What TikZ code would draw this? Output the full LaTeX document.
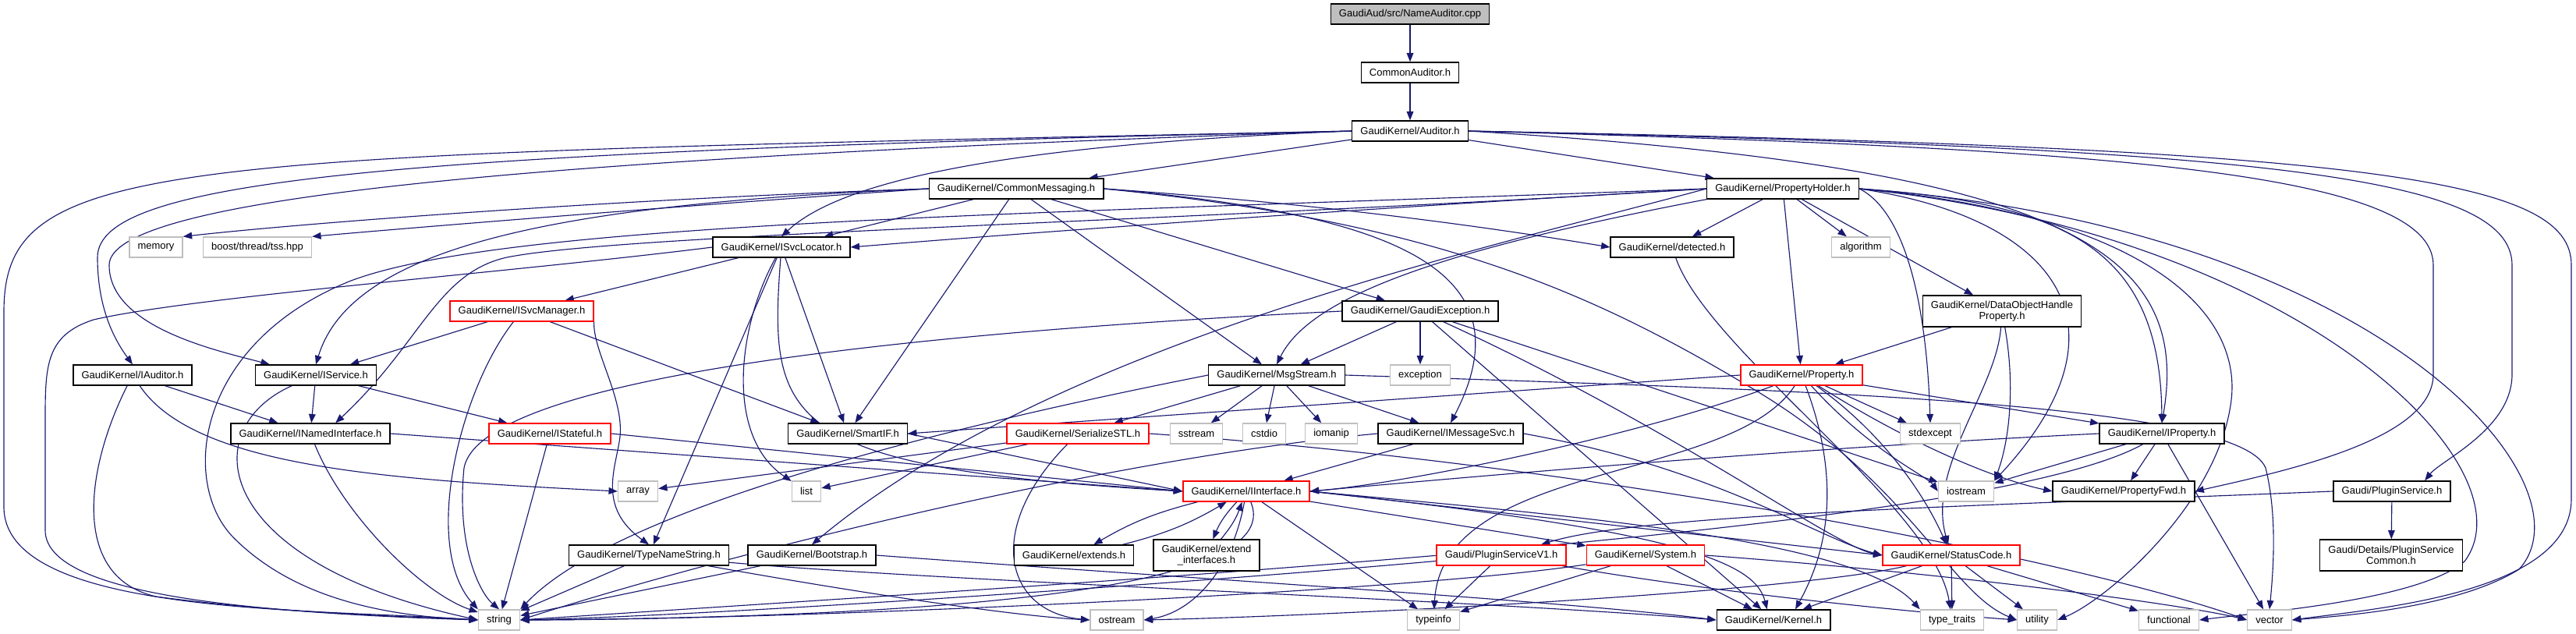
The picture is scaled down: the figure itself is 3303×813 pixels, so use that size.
\documentclass[tikz,border=0pt]{standalone}
\usepackage{fontspec}
\setmainfont{Liberation Sans}
\usetikzlibrary{arrows.meta,backgrounds}
\definecolor{edgeblue}{HTML}{191970}
\definecolor{truncred}{HTML}{FF0000}
\definecolor{sysgray}{HTML}{BFBFBF}
\tikzset{
  box/.style={draw, fill=white, line width=1pt, minimum height=19.5pt, inner xsep=8pt, inner ysep=1pt,
    align=center, font={\fontsize{9.75}{11}\selectfont}},
  hdr/.style={box, draw=black},
  trunc/.style={box, draw=truncred},
  sys/.style={box, draw=sysgray},
  two/.style={minimum height=30pt},
  dep/.style={draw=edgeblue, line width=0.85pt, -{Triangle[length=8.5pt,width=6.5pt]}},
}
\begin{document}
\begin{tikzpicture}[x=0.75pt,y=-0.75pt]
\useasboundingbox (0,0) rectangle (3303,813);
\node[hdr, fill=sysgray] (cpp) at (1808,18) {GaudiAud/src/NameAuditor.cpp};
\node[hdr] (commonaud) at (1808,93) {CommonAuditor.h};
\node[hdr] (auditor) at (1808,168) {GaudiKernel/Auditor.h};
\node[hdr] (commonmsg) at (1303,242) {GaudiKernel/CommonMessaging.h};
\node[hdr] (propholder) at (2286,242) {GaudiKernel/PropertyHolder.h};
\node[sys] (memory) at (200,317) {memory};
\node[sys] (boost) at (330,317) {boost/thread/tss.hpp};
\node[hdr] (isvcloc) at (1002,317) {GaudiKernel/ISvcLocator.h};
\node[hdr] (detected) at (2144,317) {GaudiKernel/detected.h};
\node[sys] (algorithm) at (2386,317) {algorithm};
\node[trunc] (isvcmgr) at (669,399) {GaudiKernel/ISvcManager.h};
\node[hdr] (gaudiexc) at (1821,399) {GaudiKernel/GaudiException.h};
\node[hdr, two] (dohp) at (2567,399) {GaudiKernel/DataObjectHandle\\Property.h};
\node[hdr] (iauditor) at (170,481) {GaudiKernel/IAuditor.h};
\node[hdr] (iservice) at (405,481) {GaudiKernel/IService.h};
\node[hdr] (msgstream) at (1637,481) {GaudiKernel/MsgStream.h};
\node[sys] (exception) at (1821,481) {exception};
\node[trunc] (property) at (2310,481) {GaudiKernel/Property.h};
\node[hdr] (inamed) at (398,556) {GaudiKernel/INamedInterface.h};
\node[trunc] (istateful) at (705,556) {GaudiKernel/IStateful.h};
\node[hdr] (smartif) at (1087,556) {GaudiKernel/SmartIF.h};
\node[trunc] (serialize) at (1382,556) {GaudiKernel/SerializeSTL.h};
\node[sys] (sstream) at (1534,556) {sstream};
\node[sys] (cstdio) at (1621,556) {cstdio};
\node[sys] (iomanip) at (1707,556) {iomanip};
\node[hdr] (imsgsvc) at (1860,556) {GaudiKernel/IMessageSvc.h};
\node[sys] (stdexcept) at (2475,556) {stdexcept};
\node[hdr] (iproperty) at (2772,556) {GaudiKernel/IProperty.h};
\node[sys] (array) at (818,630) {array};
\node[sys] (list) at (1034,630) {list};
\node[trunc] (iinterface) at (1598,630) {GaudiKernel/IInterface.h};
\node[sys] (iostream) at (2521,630) {iostream};
\node[hdr] (propfwd) at (2723,630) {GaudiKernel/PropertyFwd.h};
\node[hdr] (pluginsvc) at (3067,630) {Gaudi/PluginService.h};
\node[hdr] (typename) at (832,712) {GaudiKernel/TypeNameString.h};
\node[hdr] (bootstrap) at (1041,712) {GaudiKernel/Bootstrap.h};
\node[hdr] (extends) at (1377,712) {GaudiKernel/extends.h};
\node[hdr, two] (extendif) at (1547,712) {GaudiKernel/extend\\\_interfaces.h};
\node[trunc] (pluginv1) at (1925,712) {Gaudi/PluginServiceV1.h};
\node[trunc] (system) at (2110,712) {GaudiKernel/System.h};
\node[trunc] (statuscode) at (2502,712) {GaudiKernel/StatusCode.h};
\node[hdr, two] (plugincommon) at (3066,712) {Gaudi/Details/PluginService\\Common.h};
\node[sys] (string) at (640,795) {string};
\node[sys] (ostream) at (1432,795) {ostream};
\node[sys] (typeinfo) at (1838,795) {typeinfo};
\node[hdr] (kernel) at (2274,795) {GaudiKernel/Kernel.h};
\node[sys] (typetraits) at (2503,795) {type\_traits};
\node[sys] (utility) at (2612,795) {utility};
\node[sys] (functional) at (2781,795) {functional};
\node[sys] (vector) at (2910,795) {vector};
\begin{pgfonlayer}{background}
\draw[dep] (cpp) -- (commonaud);
\draw[dep] (commonaud) -- (auditor);
\draw[dep] (auditor.west) .. controls (200,200) and (5,200) .. (5,400) -- (5,650) .. controls (5,790) and (400,780) .. (string.west);
\draw[dep] (auditor.west) .. controls (500,195) and (125,230) .. (125,330) .. controls (125,400) and (150,440) .. (iauditor.north);
\draw[dep] (auditor.west) .. controls (600,205) and (140,260) .. (140,340) .. controls (140,420) and (280,450) .. (iservice.167);
\draw[dep] (auditor.west) .. controls (1300,185) and (1080,230) .. (isvcloc.north);
\draw[dep] (auditor) -- (commonmsg);
\draw[dep] (auditor) -- (propholder);
\draw[dep] (auditor.east) .. controls (2650,215) and (2810,320) .. (iproperty.north);
\draw[dep] (auditor.east) .. controls (2700,190) and (3120,220) .. (3120,340) -- (3120,480) .. controls (3120,560) and (2950,600) .. (propfwd.east);
\draw[dep] (auditor.east) .. controls (2900,190) and (3221,225) .. (3221,340) -- (3221,480) .. controls (3221,550) and (3130,590) .. (pluginsvc.18);
\draw[dep] (auditor.east) .. controls (3050,190) and (3297,230) .. (3297,340) -- (3297,640) .. controls (3297,760) and (3050,780) .. (vector.east);
\draw[dep] (commonmsg.west) .. controls (800,255) and (400,285) .. (memory.north east);
\draw[dep] (commonmsg.west) .. controls (900,262) and (550,290) .. (boost.north east);
\draw[dep] (commonmsg.west) .. controls (700,262) and (450,320) .. (iservice.north);
\draw[dep] (commonmsg) -- (isvcloc);
\draw[dep] (commonmsg) -- (smartif);
\draw[dep] (commonmsg) -- (msgstream);
\draw[dep] (commonmsg) -- (gaudiexc);
\draw[dep] (commonmsg.east) .. controls (1800,275) and (1960,350) .. (imsgsvc.north);
\draw[dep] (commonmsg.east) .. controls (1700,262) and (1900,290) .. (detected.west);
\draw[dep] (commonmsg.east) .. controls (1850,285) and (2050,380) .. (2250,500) .. controls (2450,620) and (2500,760) .. (utility.west);
\draw[dep] (propholder.west) .. controls (1700,270) and (1300,300) .. (isvcloc.east);
\draw[dep] (propholder.west) .. controls (1500,285) and (800,300) .. (650,330) .. controls (560,350) and (540,440) .. (inamed.23);
\draw[dep] (propholder.west) .. controls (1300,275) and (650,285) .. (450,360) .. controls (250,440) and (230,620) .. (300,690) .. controls (380,770) and (500,790) .. (string.west);
\draw[dep] (propholder) -- (detected);
\draw[dep] (propholder) -- (algorithm);
\draw[dep] (propholder) -- (property);
\draw[dep] (propholder) -- (dohp);
\draw[dep] (propholder.east) .. controls (2440,270) and (2470,380) .. (stdexcept.north);
\draw[dep] (propholder.east) .. controls (2650,260) and (2770,320) .. (iproperty.north);
\draw[dep] (propholder.east) .. controls (2640,280) and (2740,420) .. (iostream.north east);
\draw[dep] (propholder.south west) .. controls (1850,320) and (1680,380) .. (msgstream.north);
\draw[dep] (propholder.west) .. controls (1900,320) and (1350,440) .. (bootstrap.north);
\draw[dep] (propholder.east) .. controls (2750,275) and (2880,400) .. (2860,520) .. controls (2840,650) and (2700,770) .. (utility.east);
\draw[dep] (propholder.east) .. controls (2950,300) and (3250,600) .. (3160,720) .. controls (3100,770) and (2900,785) .. (functional.east);
\draw[dep] (propholder.east) .. controls (3050,290) and (3330,620) .. (3230,730) .. controls (3150,780) and (3000,790) .. (vector.east);
\draw[dep] (gaudiexc.west) .. controls (1300,420) and (620,470) .. (595,600) .. controls (585,700) and (615,760) .. (string.north);
\draw[dep] (gaudiexc) -- (msgstream);
\draw[dep] (gaudiexc) -- (exception);
\draw[dep] (gaudiexc) -- (kernel);
\draw[dep] (gaudiexc) .. controls (2150,550) and (2350,700) .. (statuscode.west);
\draw[dep] (gaudiexc) -- (iostream);
\draw[dep] (isvcloc.west) .. controls (650,350) and (250,380) .. (120,410) .. controls (58,430) and (58,470) .. (58,540) -- (58,680) .. controls (58,760) and (300,785) .. (string.west);
\draw[dep] (isvcloc) -- (isvcmgr);
\draw[dep] (isvcloc) -- (typename);
\draw[dep] (isvcloc) .. controls (945,420) and (930,560) .. (list);
\draw[dep] (isvcloc) .. controls (985,540) and (1000,600) .. (iinterface.west);
\draw[dep] (isvcloc) -- (smartif);
\draw[dep] (isvcmgr) -- (iservice);
\draw[dep] (isvcmgr) .. controls (590,500) and (540,700) .. (string.north west);
\draw[dep] (isvcmgr) -- (smartif);
\draw[dep] (isvcmgr.south east) .. controls (760,450) and (800,510) .. (795,560) .. controls (790,600) and (765,650) .. (typename.north);
\draw[dep] (iauditor) .. controls (110,600) and (90,740) .. (200,765) .. controls (350,785) and (500,790) .. (string.west);
\draw[dep] (iauditor) -- (inamed);
\draw[dep] (iauditor) .. controls (250,600) and (500,615) .. (array.west);
\draw[dep] (iservice) .. controls (250,550) and (270,720) .. (string.west);
\draw[dep] (iservice) -- (inamed);
\draw[dep] (iservice) -- (istateful);
\draw[dep] (inamed) .. controls (440,660) and (540,760) .. (string.160);
\draw[dep] (inamed.east) -- (iinterface.west);
\draw[dep] (istateful) -- (string);
\draw[dep] (istateful.east) -- (iinterface.west);
\draw[dep] (smartif.east) -- (iinterface.west);
\draw[dep] (msgstream.west) .. controls (1300,530) and (800,640) .. (string.north east);
\draw[dep] (msgstream) -- (serialize);
\draw[dep] (msgstream) -- (sstream);
\draw[dep] (msgstream) -- (cstdio);
\draw[dep] (msgstream) -- (iomanip);
\draw[dep] (msgstream) -- (imsgsvc);
\draw[dep] (msgstream.east) .. controls (2300,500) and (2870,515) .. (2905,600) .. controls (2920,660) and (2915,730) .. (vector.north);
\draw[dep] (serialize) -- (array);
\draw[dep] (serialize) -- (list);
\draw[dep] (serialize) .. controls (1260,680) and (1290,785) .. (ostream.west);
\draw[dep] (serialize.east) .. controls (2100,600) and (2700,730) .. (vector.west);
\draw[dep] (imsgsvc) -- (iinterface);
\draw[dep] (imsgsvc.west) .. controls (1400,590) and (900,720) .. (string.east);
\draw[dep] (imsgsvc.east) .. controls (2200,600) and (2330,690) .. (statuscode.west);
\draw[dep] (iinterface) to[bend right=8] (extends);
\draw[dep] (extends) to[bend right=8] (iinterface);
\draw[dep] (iinterface) to[bend right=10] (extendif);
\draw[dep] (extendif) to[bend right=10] (iinterface);
\draw[dep] (iinterface) -- (typeinfo);
\draw[dep] (iinterface) .. controls (1640,730) and (1400,790) .. (string.east);
\draw[dep] (iinterface.east) .. controls (2150,680) and (2250,720) .. (kernel.121);
\draw[dep] (iinterface) -- (system);
\draw[dep] (iinterface.east) -- (statuscode.west);
\draw[dep] (iinterface) .. controls (1580,730) and (1530,785) .. (ostream.east);
\draw[dep] (iinterface.east) .. controls (2000,660) and (2380,690) .. (typetraits.north west);
\draw[dep] (property.west) -- (smartif.east);
\draw[dep] (property) .. controls (2100,560) and (1800,620) .. (iinterface.east);
\draw[dep] (property) .. controls (2220,620) and (1850,590) .. (typeinfo);
\draw[dep] (property) .. controls (2370,640) and (2330,730) .. (kernel.26);
\draw[dep] (property) -- (iproperty);
\draw[dep] (property) .. controls (2450,570) and (2560,615) .. (propfwd.west);
\draw[dep] (property) -- (stdexcept);
\draw[dep] (property) .. controls (2400,580) and (2470,610) .. (iostream.west);
\draw[dep] (property) .. controls (2420,560) and (2470,640) .. (statuscode);
\draw[dep] (dohp) -- (property);
\draw[dep] (dohp) .. controls (2560,500) and (2470,600) .. (statuscode);
\draw[dep] (dohp) .. controls (2585,500) and (2575,570) .. (iostream.north east);
\draw[dep] (detected) .. controls (2190,450) and (2480,650) .. (typetraits);
\draw[dep] (iproperty.west) .. controls (2300,575) and (1900,610) .. (iinterface.east);
\draw[dep] (iproperty) -- (iostream);
\draw[dep] (iproperty) -- (propfwd);
\draw[dep] (iproperty) -- (vector);
\draw[dep] (iproperty) .. controls (2550,680) and (1500,740) .. (string.east);
\draw[dep] (pluginsvc) -- (plugincommon);
\draw[dep] (pluginsvc.west) .. controls (2500,650) and (2100,660) .. (pluginv1.15);
\draw[dep] (pluginv1) .. controls (1500,750) and (900,790) .. (string.east);
\draw[dep] (pluginv1) -- (typeinfo);
\draw[dep] (pluginv1) .. controls (2200,760) and (2450,785) .. (utility.west);
\draw[dep] (system) .. controls (1800,760) and (1000,795) .. (string.east);
\draw[dep] (system) -- (typeinfo);
\draw[dep] (system) -- (kernel);
\draw[dep] (system.east) .. controls (2500,735) and (2800,775) .. (vector.west);
\draw[dep] (statuscode) -- (typetraits);
\draw[dep] (statuscode) -- (utility);
\draw[dep] (statuscode) -- (functional);
\draw[dep] (statuscode) -- (kernel);
\draw[dep] (statuscode) .. controls (2300,760) and (1700,790) .. (ostream.east);
\draw[dep] (bootstrap) -- (string);
\draw[dep] (bootstrap.east) .. controls (1500,740) and (2000,770) .. (kernel.west);
\draw[dep] (typename) -- (string);
\draw[dep] (typename) .. controls (1100,760) and (1300,790) .. (ostream.west);
\draw[dep] (typename) .. controls (1200,745) and (1900,770) .. (kernel.west);
\end{pgfonlayer}
\end{tikzpicture}
\end{document}
